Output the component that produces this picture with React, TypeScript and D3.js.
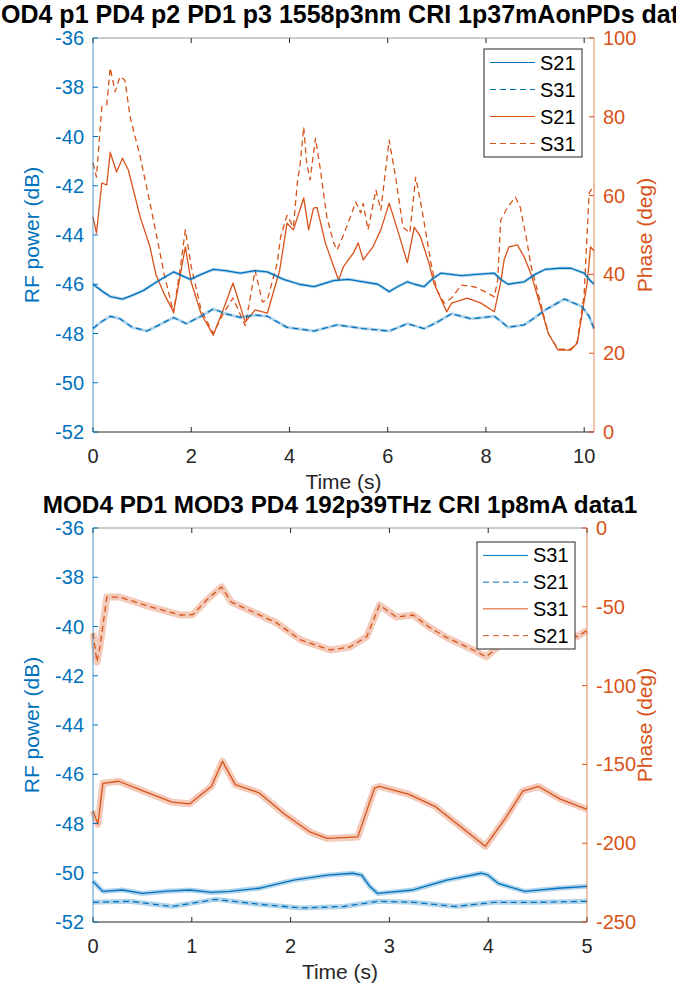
import React from "react";
import * as d3 from "d3";

const BLUE = "#0072BD";
const ORANGE = "#D95319";
const GRAY = "#262626";
const FONT = "'Liberation Sans', Arial, Helvetica, sans-serif";

type Pt = [number, number];

// ---------- Top panel data ----------
const topTitle = "MOD4 p1 PD4 p2 PD1 p3 1558p3nm CRI 1p37mAonPDs data1";
const topXTicks = [0, 2, 4, 6, 8, 10];
const topLeftTicks = [-52, -50, -48, -46, -44, -42, -40, -38, -36];
const topRightTicks = [0, 20, 40, 60, 80, 100];
const topLegend = ["S21", "S31", "S21", "S31"];

const topS21Power: Pt[] = [
  [0, -46.0], [0.2, -46.3], [0.35, -46.5], [0.6, -46.6], [0.8, -46.45], [1.03, -46.25], [1.3, -45.9],
  [1.64, -45.5], [1.98, -45.8], [2.2, -45.6], [2.45, -45.4], [2.7, -45.45], [3.0, -45.55], [3.3, -45.45],
  [3.55, -45.5], [3.88, -45.8], [4.2, -46.0], [4.5, -46.1], [4.9, -45.85], [5.2, -45.8], [5.5, -45.9],
  [5.8, -46.0], [6.03, -46.3], [6.2, -46.1], [6.4, -45.9], [6.55, -46.0], [6.74, -46.1], [6.9, -45.8],
  [7.08, -45.55], [7.3, -45.6], [7.5, -45.65], [7.8, -45.6], [8.17, -45.55], [8.3, -45.8], [8.45, -46.0],
  [8.6, -45.95], [8.78, -45.9], [9.0, -45.6], [9.2, -45.4], [9.5, -45.35], [9.73, -45.35], [10.0, -45.55],
  [10.1, -45.8], [10.2, -46.0],
];
const topS31Power: Pt[] = [
  [0, -47.8], [0.15, -47.55], [0.35, -47.3], [0.55, -47.4], [0.8, -47.75], [1.1, -47.9], [1.35, -47.65],
  [1.64, -47.35], [1.9, -47.6], [2.2, -47.3], [2.45, -47.0], [2.7, -47.2], [3.0, -47.35], [3.3, -47.25],
  [3.55, -47.3], [3.95, -47.75], [4.5, -47.9], [4.97, -47.65], [5.5, -47.8], [6.03, -47.9], [6.4, -47.6],
  [6.74, -47.8], [7.0, -47.55], [7.3, -47.2], [7.7, -47.4], [8.17, -47.3], [8.3, -47.5], [8.45, -47.75],
  [8.78, -47.65], [9.0, -47.35], [9.2, -47.05], [9.6, -46.6], [9.95, -46.9], [10.1, -47.3], [10.2, -47.8],
];
const topS21Phase: Pt[] = [
  [0, 54.6], [0.07, 50.5], [0.18, 63.2], [0.28, 62.7], [0.35, 71], [0.48, 66], [0.6, 69.5], [0.72, 66.5],
  [0.96, 54.6], [1.16, 47], [1.28, 40], [1.45, 35], [1.64, 30.5], [1.75, 38], [1.88, 47], [2.0, 38],
  [2.2, 30], [2.45, 24.6], [2.65, 31], [2.85, 37.8], [3.1, 27.9], [3.3, 31], [3.55, 30.2], [3.8, 41],
  [3.95, 53], [4.08, 51.3], [4.29, 59.4], [4.39, 51.3], [4.49, 56.8], [4.56, 57], [4.73, 48], [4.9, 42],
  [5.0, 38.6], [5.1, 42], [5.3, 45.4], [5.4, 48], [5.5, 43.7], [5.7, 47], [5.86, 51.3], [6.03, 58.1],
  [6.2, 51.3], [6.4, 43], [6.54, 52], [6.67, 49.5], [6.84, 42.9], [6.94, 37.8], [7.2, 30.5], [7.3, 32.7],
  [7.62, 34], [7.9, 32.7], [8.17, 30.5], [8.3, 38], [8.37, 43.7], [8.47, 47], [8.64, 47.5], [8.78, 44.4],
  [8.92, 40], [9.06, 34], [9.27, 25], [9.47, 20.8], [9.73, 20.8], [9.86, 22.6], [10.06, 37.8], [10.13, 47],
  [10.2, 46],
];
const topS31Phase: Pt[] = [
  [0, 68.3], [0.07, 64.7], [0.18, 82.6], [0.28, 83], [0.35, 92.4], [0.45, 86.4], [0.55, 90.2], [0.65, 89.3],
  [0.755, 80], [0.96, 69.9], [1.16, 58.1], [1.3, 49.5], [1.45, 40], [1.64, 30.2], [1.78, 42], [1.88, 51.3],
  [2.0, 42], [2.2, 31], [2.45, 25], [2.65, 30], [2.85, 34], [3.1, 27], [3.3, 41], [3.45, 33], [3.55, 33.5],
  [3.75, 42.9], [3.82, 49.5], [3.95, 55], [4.08, 52], [4.16, 63.2], [4.22, 68.3], [4.29, 77.4], [4.35, 68.3],
  [4.42, 64], [4.53, 74.6], [4.63, 66.5], [4.76, 54.6], [4.9, 48], [4.97, 46.2], [5.1, 50], [5.24, 54.6],
  [5.35, 58.4], [5.45, 55.6], [5.5, 58], [5.6, 51.3], [5.76, 61.4], [5.86, 56.3], [6.03, 74.1], [6.17, 64],
  [6.31, 52], [6.45, 50.5], [6.57, 64.7], [6.7, 56.3], [6.88, 42.9], [7.0, 36], [7.15, 32.7], [7.3, 34],
  [7.5, 37.3], [7.78, 36.8], [8.0, 35.5], [8.17, 34.3], [8.24, 38.6], [8.3, 53.8], [8.44, 57], [8.6, 59.6],
  [8.7, 57], [8.84, 48], [8.92, 42], [9.06, 35.3], [9.27, 25], [9.47, 21], [9.73, 21], [9.86, 23],
  [10.0, 35], [10.1, 60.6], [10.2, 62.7],
];

// ---------- Bottom panel data ----------
const bottomTitle = "MOD4 PD1 MOD3 PD4 192p39THz CRI 1p8mA data1";
const bottomXTicks = [0, 1, 2, 3, 4, 5];
const bottomLeftTicks = [-52, -50, -48, -46, -44, -42, -40, -38, -36];
const bottomRightTicks = [-250, -200, -150, -100, -50, 0];
const bottomLegend = ["S31", "S21", "S31", "S21"];

const bottomS31Power: Pt[] = [
  [0, -50.35], [0.1, -50.76], [0.3, -50.7], [0.5, -50.84], [0.75, -50.75], [0.98, -50.7], [1.2, -50.8],
  [1.38, -50.76], [1.68, -50.63], [2.03, -50.3], [2.37, -50.1], [2.63, -50.02], [2.72, -50.1], [2.8, -50.55],
  [2.88, -50.84], [3.24, -50.7], [3.58, -50.3], [3.93, -50.02], [4.0, -50.1], [4.1, -50.43], [4.37, -50.76],
  [4.71, -50.63], [5.0, -50.55],
];
const bottomS21Power: Pt[] = [
  [0, -51.2], [0.37, -51.16], [0.8, -51.37], [1.24, -51.08], [1.68, -51.28], [2.11, -51.43], [2.54, -51.37],
  [2.88, -51.16], [3.24, -51.2], [3.67, -51.37], [4.06, -51.2], [4.5, -51.2], [5.0, -51.16],
];
const bottomS31Phase: Pt[] = [
  [0, -179.5], [0.05, -188], [0.1, -162], [0.26, -160.7], [0.5, -166.7], [0.8, -174], [0.98, -175],
  [1.2, -163.8], [1.31, -148], [1.44, -162.8], [1.68, -168], [1.94, -181.6], [2.2, -193], [2.37, -197],
  [2.68, -196], [2.85, -165], [2.9, -164], [3.2, -169], [3.47, -177], [3.77, -192], [3.97, -202],
  [4.17, -184.6], [4.35, -167], [4.51, -164], [4.73, -172], [5.0, -178.5],
];
const bottomS21Phase: Pt[] = [
  [0, -66.6], [0.04, -85], [0.07, -75.5], [0.14, -43.8], [0.27, -43.8], [0.58, -50], [0.88, -55.2],
  [1.01, -55], [1.15, -45.7], [1.3, -37.4], [1.4, -47], [1.62, -53.3], [1.86, -60.3], [2.1, -71],
  [2.4, -77.4], [2.6, -75.5], [2.77, -69], [2.9, -48.9], [3.07, -56.5], [3.24, -55.2], [3.4, -62.8],
  [3.57, -69.2], [3.85, -77.4], [3.98, -81.8], [4.2, -70], [4.5, -58], [4.7, -62], [4.9, -69], [5.0, -65],
];

type Series = { data: Pt[]; axis: "left" | "right"; color: string; dashed: boolean };

type PanelProps = {
  top: number;
  left: number;
  width: number;
  height: number;
  xMax: number;
  xTicks: number[];
  leftDomain: [number, number];
  leftTicks: number[];
  rightDomain: [number, number];
  rightTicks: number[];
  title: string;
  titleSize: number;
  series: Series[];
  legendLabels: string[];
  legendBox: { x: number; y: number; w: number; h: number };
  haloBlue: number;
  haloOrange: number;
};

function Panel(p: PanelProps) {
  const x = d3.scaleLinear().domain([0, p.xMax]).range([p.left, p.left + p.width]);
  const yL = d3.scaleLinear().domain(p.leftDomain).range([p.top + p.height, p.top]);
  const yR = d3.scaleLinear().domain(p.rightDomain).range([p.top + p.height, p.top]);
  const bottom = p.top + p.height;
  const right = p.left + p.width;
  const tick = 5;
  const mkLine = (s: Series) =>
    d3
      .line<Pt>()
      .x((d) => x(d[0]))
      .y((d) => (s.axis === "left" ? yL(d[1]) : yR(d[1])))(s.data) || "";
  const drawOrder = [...p.series].sort((a, b) => (a.axis === b.axis ? 0 : a.axis === "right" ? -1 : 1));
  const lb = p.legendBox;
  const rowH = lb.h / p.legendLabels.length;
  return (
    <g>
      <text
        x={(p.left + right) / 2}
        y={p.top - 15}
        textAnchor="middle"
        fontFamily={FONT}
        fontWeight="bold"
        fontSize={p.titleSize}
        fill="#000"
      >
        {p.title}
      </text>
      {drawOrder.map((s, i) => {
        const halo = s.color === BLUE ? p.haloBlue : p.haloOrange;
        return (
          <g key={i}>
            {halo > 0 && (
              <path d={mkLine(s)} fill="none" stroke={s.color} strokeOpacity={0.3} strokeWidth={halo} strokeLinejoin="round" />
            )}
            <path
              d={mkLine(s)}
              fill="none"
              stroke={s.color}
              strokeWidth={1.3}
              strokeDasharray={s.dashed ? "6,4" : undefined}
              strokeLinejoin="round"
            />
          </g>
        );
      })}
      <line x1={p.left} x2={right} y1={p.top} y2={p.top} stroke={GRAY} strokeWidth={0.8} strokeOpacity={0.6} />
      <line x1={p.left} x2={right} y1={bottom} y2={bottom} stroke={GRAY} strokeWidth={1} />
      {p.xTicks.map((t) => (
        <g key={"xt" + t}>
          <line x1={x(t)} x2={x(t)} y1={bottom} y2={bottom - tick} stroke={GRAY} strokeWidth={1} />
          <line x1={x(t)} x2={x(t)} y1={p.top} y2={p.top + tick} stroke={GRAY} strokeWidth={1} />
          <text x={x(t)} y={bottom + 31} textAnchor="middle" fontFamily={FONT} fontSize={20} fill={GRAY}>
            {t}
          </text>
        </g>
      ))}
      <text
        x={(p.left + right) / 2}
        y={bottom + 57}
        textAnchor="middle"
        fontFamily={FONT}
        fontSize={21}
        fill={GRAY}
      >
        Time (s)
      </text>
      <line x1={p.left} x2={p.left} y1={p.top} y2={bottom} stroke={BLUE} strokeWidth={1} strokeOpacity={0.7} />
      {p.leftTicks.map((t) => (
        <g key={"lt" + t}>
          <line x1={p.left} x2={p.left + tick} y1={yL(t)} y2={yL(t)} stroke={BLUE} strokeWidth={1} />
          <text x={p.left - 9} y={yL(t) + 7} textAnchor="end" fontFamily={FONT} fontSize={20} fill={BLUE}>
            {t}
          </text>
        </g>
      ))}
      <text
        transform={`translate(39,${(p.top + bottom) / 2}) rotate(-90)`}
        textAnchor="middle"
        fontFamily={FONT}
        fontSize={21}
        fill={BLUE}
      >
        RF power (dB)
      </text>
      <line x1={right} x2={right} y1={p.top} y2={bottom} stroke={ORANGE} strokeWidth={1} strokeOpacity={0.7} />
      {p.rightTicks.map((t) => (
        <g key={"rt" + t}>
          <line x1={right} x2={right - tick} y1={yR(t)} y2={yR(t)} stroke={ORANGE} strokeWidth={1} />
          <text x={right + 9} y={yR(t) + 7} textAnchor="start" fontFamily={FONT} fontSize={20} fill={ORANGE}>
            {t}
          </text>
        </g>
      ))}
      <text
        transform={`translate(652,${(p.top + bottom) / 2}) rotate(-90)`}
        textAnchor="middle"
        fontFamily={FONT}
        fontSize={21}
        fill={ORANGE}
      >
        Phase (deg)
      </text>
      <rect x={lb.x} y={lb.y} width={lb.w} height={lb.h} fill="#fff" stroke={GRAY} strokeWidth={1} />
      {p.legendLabels.map((lab, i) => {
        const s = p.series[i];
        const cy = lb.y + rowH * (i + 0.5);
        return (
          <g key={"lg" + i}>
            <line
              x1={lb.x + 6}
              x2={lb.x + 51}
              y1={cy}
              y2={cy}
              stroke={s.color}
              strokeWidth={1}
              strokeDasharray={s.dashed ? "6,4" : undefined}
            />
            <text x={lb.x + 56} y={cy + 7} fontFamily={FONT} fontSize={20} fill="#000">
              {lab}
            </text>
          </g>
        );
      })}
    </g>
  );
}

export default function App() {
  const topSeries: Series[] = [
    { data: topS21Power, axis: "left", color: BLUE, dashed: false },
    { data: topS31Power, axis: "left", color: BLUE, dashed: true },
    { data: topS21Phase, axis: "right", color: ORANGE, dashed: false },
    { data: topS31Phase, axis: "right", color: ORANGE, dashed: true },
  ];
  const bottomSeries: Series[] = [
    { data: bottomS31Power, axis: "left", color: BLUE, dashed: false },
    { data: bottomS21Power, axis: "left", color: BLUE, dashed: true },
    { data: bottomS31Phase, axis: "right", color: ORANGE, dashed: false },
    { data: bottomS21Phase, axis: "right", color: ORANGE, dashed: true },
  ];
  return (
    <svg width={676} height={996} style={{ position: "absolute", left: 0, top: 0, background: "#fff" }}>
      <rect x={0} y={0} width={676} height={996} fill="#fff" />
      <Panel
        top={38}
        left={93}
        width={501}
        height={394}
        xMax={10.2}
        xTicks={topXTicks}
        leftDomain={[-52, -36]}
        leftTicks={topLeftTicks}
        rightDomain={[0, 100]}
        rightTicks={topRightTicks}
        title={topTitle}
        titleSize={25}
        series={topSeries}
        legendLabels={topLegend}
        legendBox={{ x: 484, y: 49, w: 98, h: 108 }}
        haloBlue={3}
        haloOrange={0}
      />
      <Panel
        top={528}
        left={93}
        width={494}
        height={394}
        xMax={5}
        xTicks={bottomXTicks}
        leftDomain={[-52, -36]}
        leftTicks={bottomLeftTicks}
        rightDomain={[-250, 0]}
        rightTicks={bottomRightTicks}
        title={bottomTitle}
        titleSize={24.3}
        series={bottomSeries}
        legendLabels={bottomLegend}
        legendBox={{ x: 477, y: 542, w: 98, h: 107 }}
        haloBlue={5}
        haloOrange={7}
      />
    </svg>
  );
}
